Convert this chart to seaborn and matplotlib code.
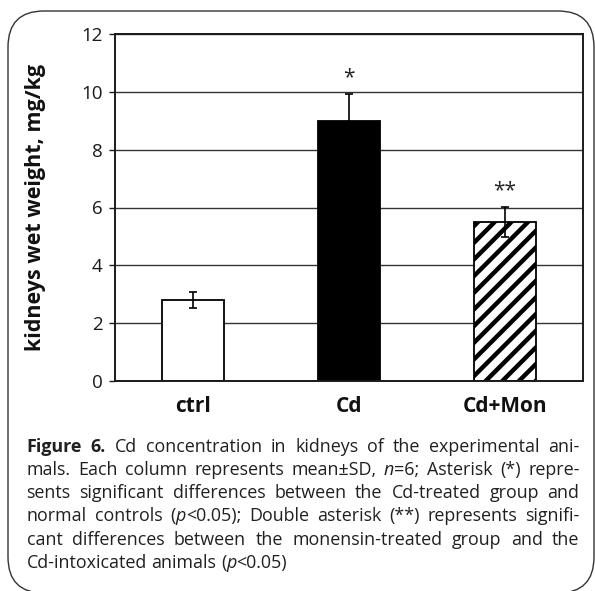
import numpy as np
import matplotlib
matplotlib.use('Agg')
import matplotlib.pyplot as plt
import matplotlib.patches as mpatches
import seaborn as sb

groups = ['ctrl', 'Cd', 'Cd+Mon']
means = [2.8, 9.0, 5.5]
sds = [0.27, 0.93, 0.52]
marks = ['', '*', '**']
bar_colors = ['white', 'black', 'white']
bar_hatches = ['', '', '//']
ylabel = 'kidneys wet weight, mg/kg'
yticks = [0, 2, 4, 6, 8, 10, 12]

# caption lines; '#' toggles bold, '|' toggles italic
caption = [
    '#Figure 6.# Cd concentration in kidneys of the experimental ani-',
    'mals. Each column represents mean\u00b1SD, |n|=6; Asterisk (*) repre-',
    'sents significant differences between the Cd-treated group and',
    'normal controls (|p|<0.05); Double asterisk (**) represents signifi-',
    'cant differences between the monensin-treated group and the',
    'Cd-intoxicated animals (|p|<0.05)',
]

sb.set_style('white')
plt.rcParams['font.family'] = ['Open Sans', 'DejaVu Sans']
plt.rcParams['hatch.linewidth'] = 3.2
plt.rcParams['hatch.color'] = '#1a1a1a'

W, H = 595, 591
fig = plt.figure(figsize=(W / 100, H / 100), dpi=100)
ax = fig.add_axes([115 / W, (H - 381) / H, (583 - 115) / W, (381 - 34) / H])

sb.barplot(x=groups, y=means, hue=groups, palette=bar_colors, width=0.4,
           edgecolor='black', linewidth=1.3, legend=False, ax=ax, zorder=2)
for bar, h in zip(ax.patches, bar_hatches):
    bar.set_hatch(h)

xs = np.arange(len(groups))
ax.errorbar(xs, means, yerr=sds, fmt='none', ecolor='black', elinewidth=1.2,
            capsize=2.8, capthick=1.2, zorder=4)
for x, m, s, t in zip(xs, means, sds, marks):
    if t:
        ax.text(x, m + s + 0.2, t, ha='center', va='bottom', fontsize=15,
                color='#222222', zorder=5)

ax.set_ylim(0, 12)
ax.set_xlim(-0.5, 2.5)
ax.set_yticks(yticks)
ax.yaxis.grid(True, color='#333333', linewidth=1.0, zorder=0)
ax.set_axisbelow(True)
for sp in ax.spines.values():
    sp.set_visible(True)
    sp.set_color('#1a1a1a')
    sp.set_linewidth(1.4)
ax.tick_params(axis='y', left=True, length=4, width=1.0, pad=5, labelsize=13.5,
               colors='#1a1a1a')
ax.tick_params(axis='x', bottom=False, length=0, pad=11)
for lab in ax.get_xticklabels():
    lab.set_fontsize(15)
    lab.set_fontweight('bold')
    lab.set_color('#111111')
ax.set_ylabel(ylabel, fontsize=15.5, fontweight='bold', color='#111111')
ax.yaxis.set_label_coords(-0.148, 0.5)
ax.set_xlabel('')

# rounded frame round the whole figure
frame = mpatches.FancyBboxPatch((0.08, -0.02), 5.86, 5.82,
                                boxstyle='round,pad=0,rounding_size=0.36',
                                transform=fig.dpi_scale_trans, fill=False,
                                edgecolor='#333333', linewidth=1.0)
fig.add_artist(frame)

# justified caption
renderer = fig.canvas.get_renderer()
left, right = 26.5, 579.5
first_base = 451.5
pitch = 23.3


def runs_of(word, state):
    runs = []
    cur = ''
    for ch in word:
        if ch in '#|':
            if cur:
                runs.append((cur, dict(state)))
                cur = ''
            key = 'bold' if ch == '#' else 'italic'
            state[key] = not state[key]
        else:
            cur += ch
    if cur:
        runs.append((cur, dict(state)))
    return runs


def measure(txt, st, size):
    t = fig.text(0, 0, txt, fontsize=size,
                 fontweight='bold' if st['bold'] else 'normal',
                 fontstyle='italic' if st['italic'] else 'normal')
    w = t.get_window_extent(renderer).width
    t.remove()
    return w


plain = {'bold': False, 'italic': False}


def layout(size):
    sw = measure('a a', plain, size) - 2 * measure('a', plain, size)
    state = {'bold': False, 'italic': False}
    out = []
    for line in caption:
        words = [runs_of(w, state) for w in line.split(' ')]
        widths = [[measure(t, st, size) for t, st in w] for w in words]
        out.append((words, widths))
    natural = max(sum(map(sum, ws)) + sw * 1.6 * (len(ws) - 1) for _, ws in out)
    return sw, out, natural


cap_size = 13.0
sw, lines, natural = layout(cap_size)
if natural > right - left:
    cap_size *= (right - left) / natural
    sw, lines, natural = layout(cap_size)

for i, (words, widths) in enumerate(lines):
    totals = [sum(w) for w in widths]
    if i < len(lines) - 1:
        gap = (right - left - sum(totals)) / (len(words) - 1)
    else:
        gap = sw
    x = left
    ybase = (H - (first_base + i * pitch)) / H
    for w, ws in zip(words, widths):
        for (t, st), rw in zip(w, ws):
            fig.text(x / W, ybase, t, fontsize=cap_size, va='baseline', ha='left',
                     color='#231f20',
                     fontweight='bold' if st['bold'] else 'normal',
                     fontstyle='italic' if st['italic'] else 'normal')
            x += rw
        x += gap

fig.savefig('out.png', dpi=100)
